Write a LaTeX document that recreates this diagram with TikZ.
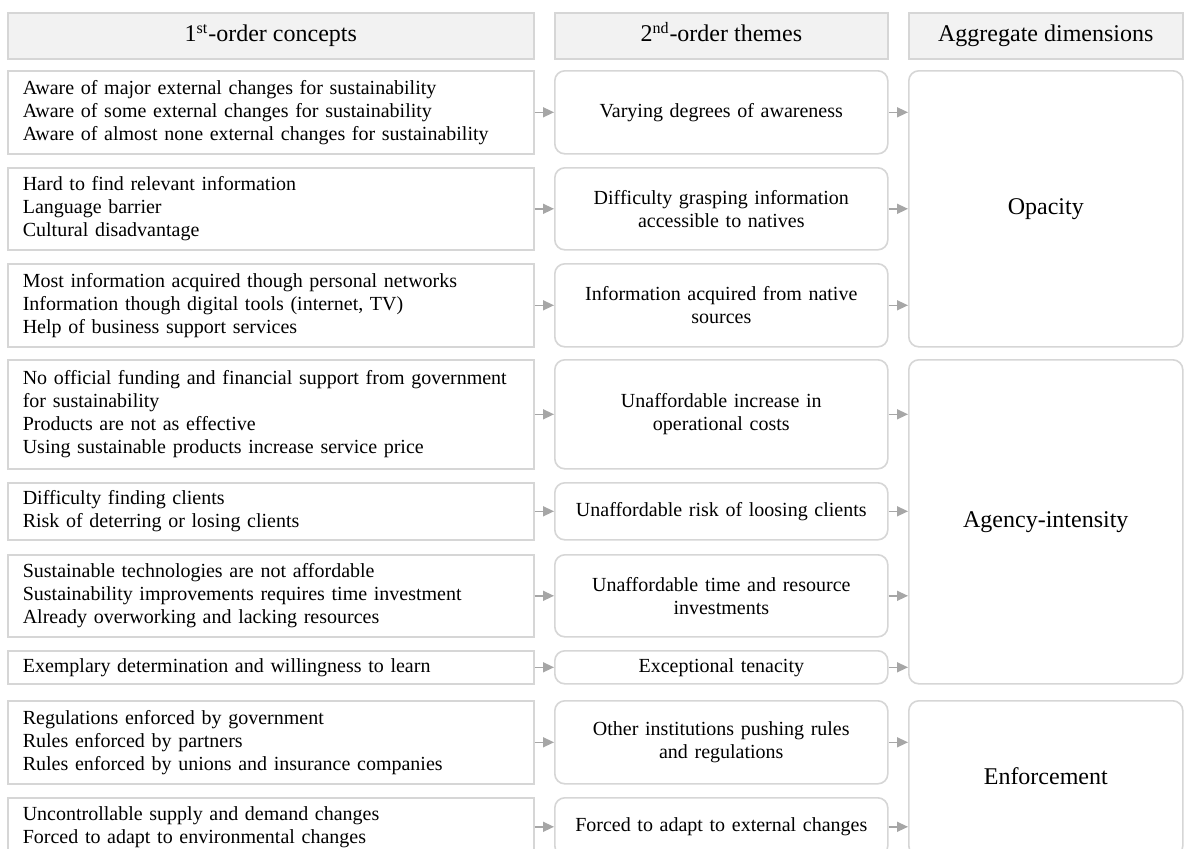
\documentclass[tikz,border=0pt]{standalone}
\usepackage{fontspec}
\setmainfont{Liberation Serif}
\usetikzlibrary{arrows.meta}
\definecolor{boxline}{HTML}{D6D6D6}
\definecolor{headfill}{HTML}{F2F2F2}
\definecolor{flowgray}{HTML}{A6A6A6}
\begin{document}
\begin{tikzpicture}[x=0.5pt,y=-0.5pt,
    headbox/.style={draw=boxline, fill=headfill, line width=0.8pt, anchor=north west, minimum height=23pt, inner sep=0pt, text height=8.5pt, text depth=2.5pt, font=\fontsize{12}{14}\selectfont},
    conceptbox/.style={draw=boxline, line width=0.8pt, anchor=north west, text width=248pt, inner xsep=7.5pt, inner ysep=0pt, align=left, font=\fontsize{10}{11.5}\selectfont},
    themebox/.style={draw=boxline, line width=0.8pt, rounded corners=5pt, anchor=north west, text width=160pt, inner xsep=3.25pt, inner ysep=0pt, align=center, font=\fontsize{10}{11.5}\selectfont},
    dimbox/.style={draw=boxline, line width=0.8pt, rounded corners=5pt, anchor=north west, minimum width=137pt, inner sep=0pt, text height=9pt, text depth=3pt, font=\fontsize{12}{14}\selectfont},
    flow/.style={draw=flowgray, line width=0.7pt, -{Triangle[length=5.5pt,width=5pt]}}]
            \fill[white] (0,0) rectangle (1184,848);
            \useasboundingbox (0,0) rectangle (1184,848);
            \node[headbox, minimum width=263pt] (head1) at (7,12) {1\textsuperscript{st}-order concepts};
            \node[headbox, minimum width=166.5pt] (head2) at (554,12) {2\textsuperscript{nd}-order themes};
            \node[headbox, minimum width=137pt] (head3) at (908,12) {Aggregate dimensions};
            \node[conceptbox, minimum height=41.5pt] (c1) at (7,70) {Aware of major external changes for sustainability\\Aware of some external changes for sustainability\\Aware of almost none external changes for sustainability};
            \node[conceptbox, minimum height=41pt] (c2) at (7,167) {Hard to find relevant information\\Language barrier\\Cultural disadvantage};
            \node[conceptbox, minimum height=41.5pt] (c3) at (7,263) {Most information acquired though personal networks\\Information though digital tools (internet, TV)\\Help of business support services};
            \node[conceptbox, minimum height=54.5pt] (c4) at (7,359) {No official funding and financial support from government\\for sustainability\\Products are not as effective\\Using sustainable products increase service price};
            \node[conceptbox, minimum height=28.5pt] (c5) at (7,482) {Difficulty finding clients\\Risk of deterring or losing clients};
            \node[conceptbox, minimum height=41pt] (c6) at (7,554) {Sustainable technologies are not affordable\\Sustainability improvements requires time investment\\Already overworking and lacking resources};
            \node[conceptbox, minimum height=16.5pt] (c7) at (7,650) {Exemplary determination and willingness to learn};
            \node[conceptbox, minimum height=41.5pt] (c8) at (7,700) {Regulations enforced by government\\Rules enforced by partners\\Rules enforced by unions and insurance companies};
            \node[conceptbox, minimum height=29pt] (c9) at (7,797) {Uncontrollable supply and demand changes\\Forced to adapt to environmental changes};
            \node[themebox, minimum height=41.5pt] (t1) at (554,70) {Varying degrees of awareness};
            \node[themebox, minimum height=41pt] (t2) at (554,167) {Difficulty grasping information\\accessible to natives};
            \node[themebox, minimum height=41.5pt] (t3) at (554,263) {Information acquired from native\\sources};
            \node[themebox, minimum height=54.5pt] (t4) at (554,359) {Unaffordable increase in\\operational costs};
            \node[themebox, minimum height=28.5pt] (t5) at (554,482) {Unaffordable risk of loosing clients};
            \node[themebox, minimum height=41pt] (t6) at (554,554) {Unaffordable time and resource\\investments};
            \node[themebox, minimum height=16.5pt] (t7) at (554,650) {Exceptional tenacity};
            \node[themebox, minimum height=41.5pt] (t8) at (554,700) {Other institutions pushing rules\\and regulations};
            \node[themebox, minimum height=29pt] (t9) at (554,797) {Forced to adapt to external changes};
            \node[dimbox, minimum height=138pt] (opacity) at (908,70) {Opacity};
            \node[dimbox, minimum height=162pt] (agency) at (908,359) {Agency-intensity};
            \node[dimbox, minimum height=77.5pt] (enforce) at (908,700) {Enforcement};
            \draw[flow] (c1.east) -- (t1.west);
            \draw[flow] (c2.east) -- (t2.west);
            \draw[flow] (c3.east) -- (t3.west);
            \draw[flow] (c4.east) -- (t4.west);
            \draw[flow] (c5.east) -- (t5.west);
            \draw[flow] (c6.east) -- (t6.west);
            \draw[flow] (c7.east) -- (t7.west);
            \draw[flow] (c8.east) -- (t8.west);
            \draw[flow] (c9.east) -- (t9.west);
            \draw[flow] (t1.east) -- (t1.east -| opacity.west);
            \draw[flow] (t2.east) -- (t2.east -| opacity.west);
            \draw[flow] (t3.east) -- (t3.east -| opacity.west);
            \draw[flow] (t4.east) -- (t4.east -| agency.west);
            \draw[flow] (t5.east) -- (t5.east -| agency.west);
            \draw[flow] (t6.east) -- (t6.east -| agency.west);
            \draw[flow] (t7.east) -- (t7.east -| agency.west);
            \draw[flow] (t8.east) -- (t8.east -| enforce.west);
            \draw[flow] (t9.east) -- (t9.east -| enforce.west);
        \end{tikzpicture}
\end{document}
